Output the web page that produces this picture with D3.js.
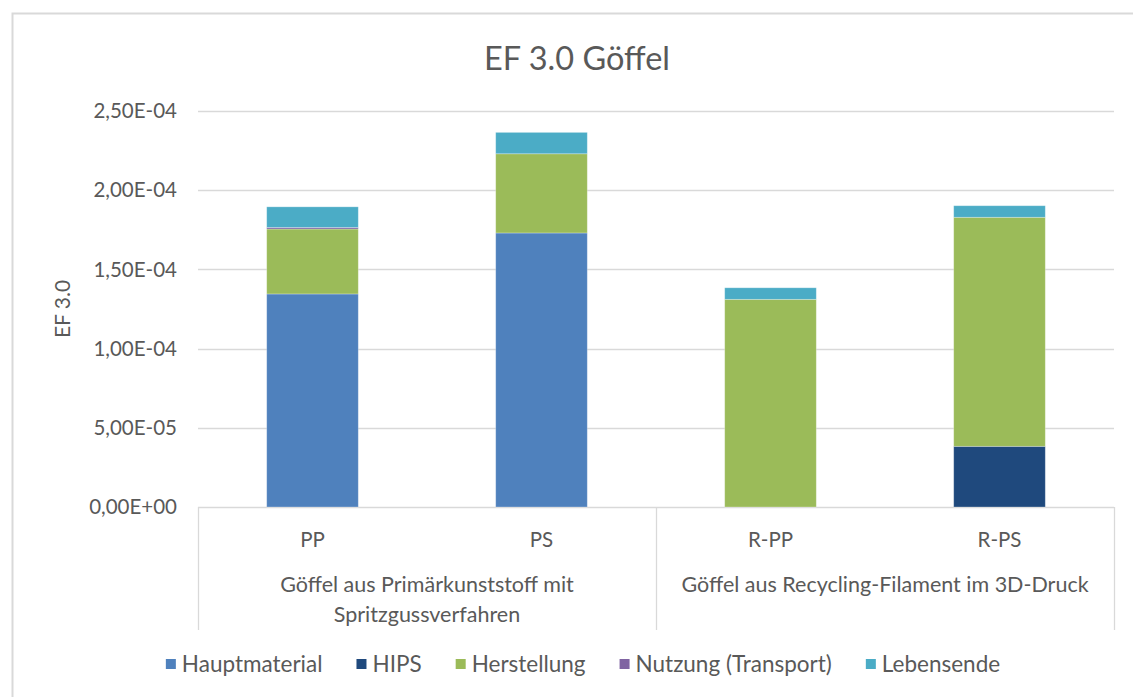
<!DOCTYPE html>
<html>
<head>
<meta charset="utf-8">
<script src="https://cdn.jsdelivr.net/npm/d3@7"></script>
<style>
  html, body { margin: 0; padding: 0; background: #ffffff; }
  svg { display: block; font-family: Lato, "Open Sans", sans-serif; }
</style>
</head>
<body>
<svg id="chart" width="1133" height="697"></svg>
<script>
// Categories and their grouping on the two-level x axis
const categories = ["PP", "PS", "R-PP", "R-PS"];
const categoryGroup = [0, 0, 1, 1];
const groupLabels = [
  ["Göffel aus Primärkunststoff mit", "Spritzgussverfahren"],
  ["Göffel aus Recycling-Filament im 3D-Druck"]
];

// Series values (EF 3.0) per category
const seriesNames = ["Hauptmaterial", "HIPS", "Herstellung", "Nutzung (Transport)", "Lebensende"];
const hauptmaterial = [1.345e-4, 1.73e-4, 0, 0];
const hips = [0, 0, 0, 3.83e-5];
const herstellung = [4.1e-5, 5.0e-5, 1.311e-4, 1.446e-4];
const nutzung = [1.0e-6, 0, 0, 0];
const lebensende = [1.3e-5, 1.35e-5, 7.3e-6, 7.3e-6];

const yTicks = [0, 5e-5, 1e-4, 1.5e-4, 2e-4, 2.5e-4];

const seriesColors = ["#4F81BD", "#1F497D", "#9BBB59", "#8064A2", "#4BACC6"];
const textColor = "#595959";

// Build the stacking table
const seriesValues = [hauptmaterial, hips, herstellung, nutzung, lebensende];
const table = categories.map((c, i) => {
  const row = { category: c };
  seriesNames.forEach((s, k) => { row[s] = seriesValues[k][i]; });
  return row;
});
const stacked = d3.stack().keys(seriesNames)(table);

const svg = d3.select("#chart");

// Chart area outline
svg.append("rect")
  .attr("x", 12.5).attr("y", 13.5)
  .attr("width", 1140).attr("height", 700)
  .attr("fill", "#ffffff")
  .attr("stroke", "#d9d9d9").attr("stroke-width", 2);

const plot = { left: 198, right: 1114, top: 111, bottom: 507 };

const x = d3.scaleBand()
  .domain(categories)
  .range([plot.left, plot.right])
  .paddingInner(0.6)
  .paddingOuter(0.3);

const y = d3.scaleLinear()
  .domain([0, 2.5e-4])
  .range([plot.bottom, plot.top]);

const fmt = v => v.toExponential(2).replace(".", ",")
  .replace(/e([+-])(\d)$/, "E$10$2").toUpperCase();

// Horizontal gridlines
svg.append("g")
  .selectAll("line")
  .data(yTicks)
  .join("line")
  .attr("x1", plot.left).attr("x2", plot.right)
  .attr("y1", d => Math.round(y(d)) + 0.5)
  .attr("y2", d => Math.round(y(d)) + 0.5)
  .attr("stroke", "#d9d9d9").attr("stroke-width", 1.3);

// Y tick labels
svg.append("g")
  .selectAll("text")
  .data(yTicks)
  .join("text")
  .attr("x", 177)
  .attr("y", d => y(d))
  .attr("dy", "0.35em")
  .attr("text-anchor", "end")
  .attr("fill", textColor)
  .attr("font-size", 20.5)
  .text(fmt);

// Y axis title
svg.append("text")
  .attr("transform", `translate(70,${(plot.top + plot.bottom) / 2}) rotate(-90)`)
  .attr("text-anchor", "middle")
  .attr("fill", textColor)
  .attr("font-size", 21)
  .text("EF 3.0");

// Stacked bars
svg.append("g")
  .selectAll("g")
  .data(stacked)
  .join("g")
  .attr("fill", (d, i) => seriesColors[i])
  .selectAll("rect")
  .data(d => d)
  .join("rect")
  .attr("x", d => x(d.data.category))
  .attr("width", x.bandwidth())
  .attr("y", d => y(d[1]))
  .attr("height", d => Math.max(0, y(d[0]) - y(d[1])))
  .attr("stroke", "rgba(255,255,255,0.35)")
  .attr("stroke-width", d => (d[1] - d[0]) > 0 ? 0.8 : 0);

// Two-level category axis: separator lines
const boxBottom = 630;
const groupEdges = [plot.left, (x("PS") + x("R-PP") + x.bandwidth()) / 2, plot.right];
svg.append("g")
  .selectAll("line")
  .data(groupEdges)
  .join("line")
  .attr("x1", d => Math.round(d) + 0.5).attr("x2", d => Math.round(d) + 0.5)
  .attr("y1", plot.bottom).attr("y2", boxBottom)
  .attr("stroke", "#d9d9d9").attr("stroke-width", 1.3);

// Inner category labels
svg.append("g")
  .selectAll("text")
  .data(categories)
  .join("text")
  .attr("x", d => x(d) + x.bandwidth() / 2)
  .attr("y", 547)
  .attr("text-anchor", "middle")
  .attr("fill", textColor)
  .attr("font-size", 20.5)
  .text(d => d);

// Outer group labels
groupLabels.forEach((lines, g) => {
  const cx = (groupEdges[g] + groupEdges[g + 1]) / 2;
  lines.forEach((line, j) => {
    svg.append("text")
      .attr("x", cx)
      .attr("y", 592 + j * 30)
      .attr("text-anchor", "middle")
      .attr("fill", textColor)
      .attr("font-size", 21.5)
      .text(line);
  });
});

// Title
svg.append("text")
  .attr("x", 577)
  .attr("y", 70)
  .attr("text-anchor", "middle")
  .attr("fill", textColor)
  .attr("font-size", 32.5)
  .text("EF 3.0 Göffel");

// Legend
const legend = svg.append("g");
const items = legend.selectAll("g")
  .data(seriesNames)
  .join("g");
items.append("rect")
  .attr("width", 10).attr("height", 10)
  .attr("y", -5)
  .attr("fill", (d, i) => seriesColors[i]);
items.append("text")
  .attr("x", 16)
  .attr("dy", "0.35em")
  .attr("fill", textColor)
  .attr("font-size", 22.5)
  .text(d => d);
let cursor = 0;
items.each(function () {
  const w = 16 + d3.select(this).select("text").node().getComputedTextLength();
  d3.select(this).attr("transform", `translate(${cursor},0)`);
  cursor += w + 34;
});
const legendWidth = cursor - 34;
legend.attr("transform", `translate(${583 - legendWidth / 2},664)`);
</script>
</body>
</html>
